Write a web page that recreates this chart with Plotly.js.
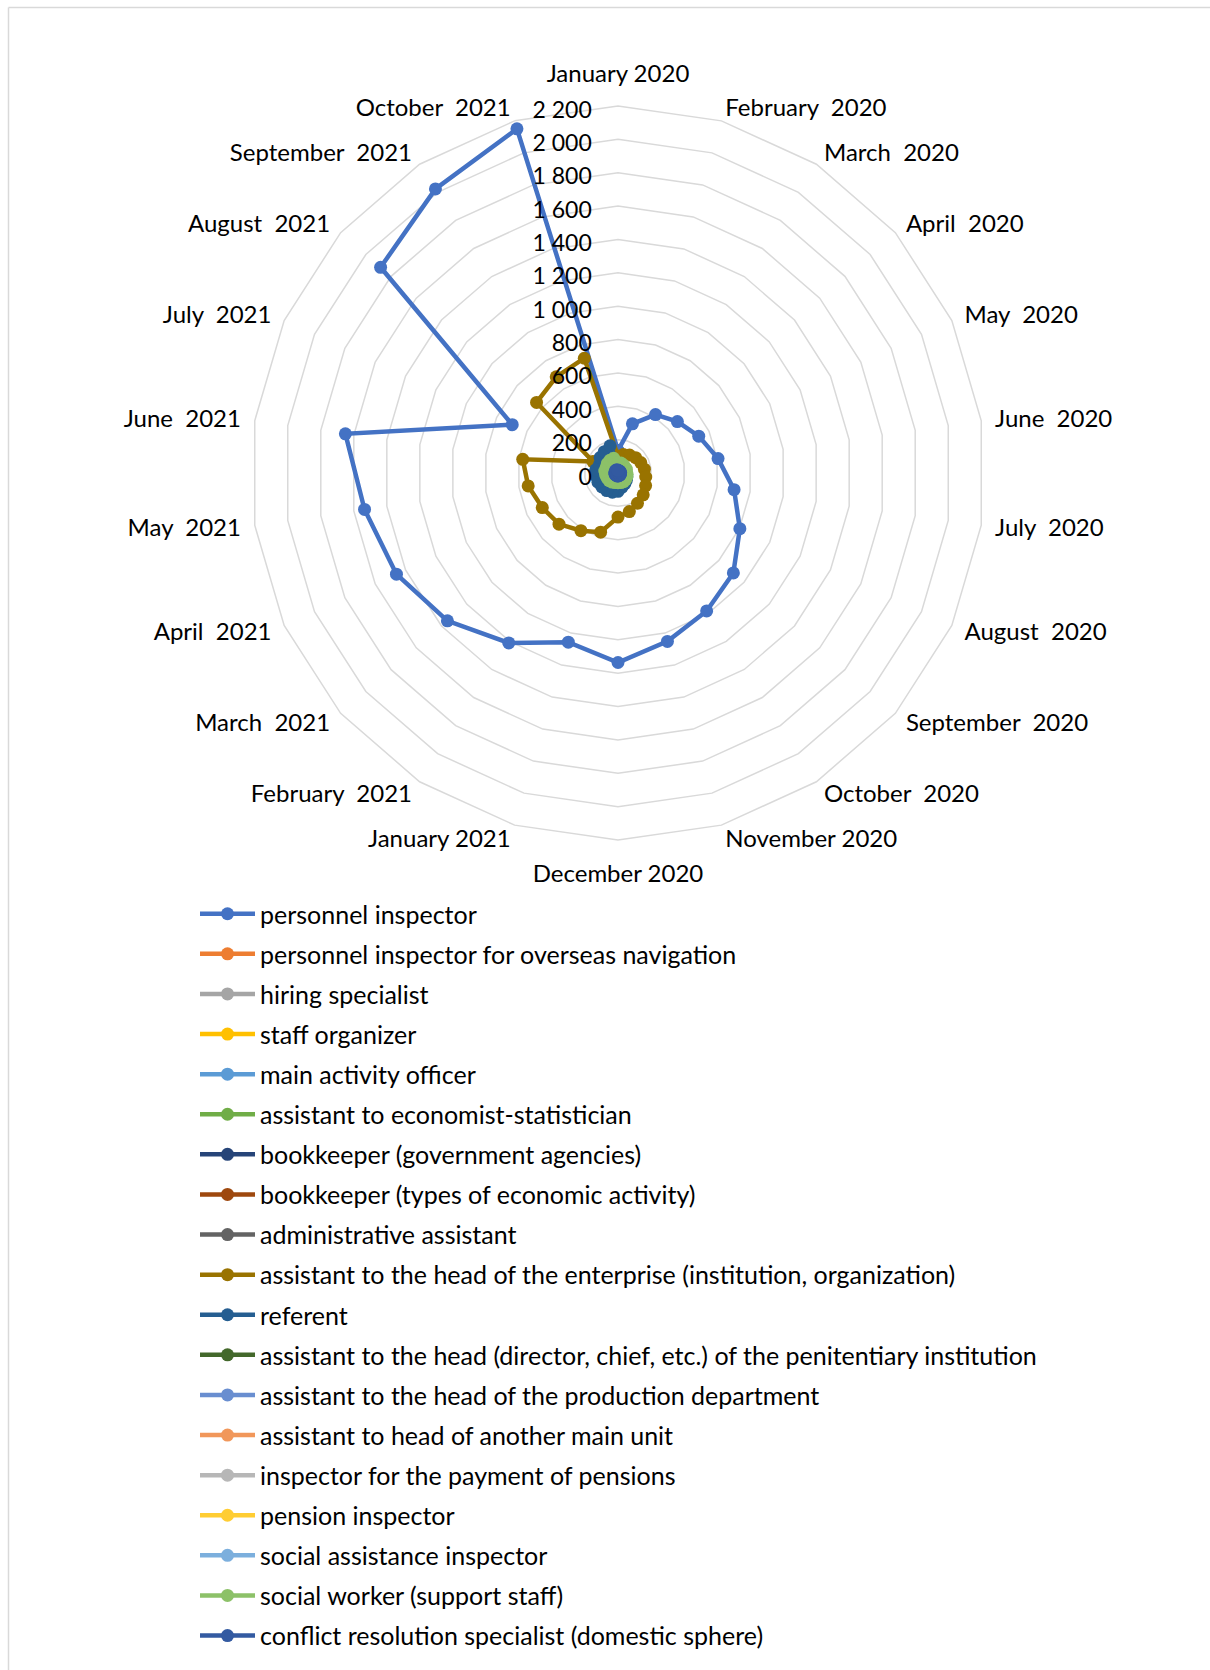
<!DOCTYPE html>
<html><head><meta charset="utf-8">
<script src="https://cdn.plot.ly/plotly-3.0.1.min.js"></script>
<style>html,body{margin:0;padding:0;background:#fff}#chart{width:1210px;height:1670px}</style>
</head><body><div id="chart"></div>
<script>
const months = ["January 2020","February\u00a0 2020","March\u00a0 2020","April\u00a0 2020","May\u00a0 2020","June\u00a0 2020","July\u00a0 2020","August\u00a0 2020","September\u00a0 2020","October\u00a0 2020","November 2020","December 2020","January 2021","February\u00a0 2021","March\u00a0 2021","April\u00a0 2021","May\u00a0 2021","June\u00a0 2021","July\u00a0 2021","August\u00a0 2021","September\u00a0 2021","October\u00a0 2021"];

const seriesNames = ["personnel inspector","personnel inspector for overseas navigation","hiring specialist","staff organizer","main activity officer","assistant to economist-statistician","bookkeeper (government agencies)","bookkeeper (types of economic activity)","administrative assistant","assistant to the head of the enterprise (institution, organization)","referent","assistant to the head (director, chief, etc.) of the penitentiary institution","assistant to the head of the production department","assistant to head of another main unit","inspector for the payment of pensions","pension inspector","social assistance inspector","social worker (support staff)","conflict resolution specialist (domestic sphere)"];

const seriesColors = ["#4472C4","#ED7D31","#A5A5A5","#FFC000","#5B9BD5","#70AD47","#264478","#9E480E","#636363","#997300","#255E91","#43682B","#698ED0","#F1975A","#B7B7B7","#FFCD33","#7CAFDD","#8CC168","#335AA1"];

const personnelInspector = [135,307,416,471,532,606,703,803,915,983,1052,1136,1057,1211,1353,1460,1535,1651,697,1883,2024,2150];
const personnelInspectorOverseas = [2,2,3,2,3,3,2,3,3,2,3,3,4,3,3,4,3,4,3,4,4,3];
const hiringSpecialist = [10,9,10,11,10,12,12,11,12,13,12,14,15,14,15,16,15,16,14,17,18,18];
const staffOrganizer = [4,4,5,5,4,5,6,5,6,6,5,6,7,6,7,7,7,8,6,8,8,9];
const mainActivityOfficer = [6,5,6,6,7,6,7,8,7,8,8,9,9,9,10,10,11,11,9,12,12,13];
const assistantEconomist = [3,3,3,4,3,4,4,3,4,4,4,5,5,4,5,5,5,6,5,6,6,6];
const bookkeeperGov = [20,18,19,20,21,22,21,23,24,25,24,26,28,27,29,30,31,32,28,33,34,35];
const bookkeeperEcon = [15,14,15,16,15,17,16,18,18,19,19,20,22,21,22,23,24,24,21,25,26,27];
const adminAssistant = [25,24,25,26,27,28,27,29,30,31,32,34,36,35,37,38,39,40,36,42,43,45];
const assistantHeadEnterprise = [100,115,128,140,150,160,168,182,200,216,241,264,370,411,468,499,544,577,165,646,685,717];
const referent = [60,55,50,45,45,48,52,58,66,76,88,110,120,125,128,132,132,135,122,142,152,170];
const assistantHeadPenitentiary = [5,5,6,6,5,6,7,6,7,7,7,8,8,8,9,9,9,10,8,10,11,11];
const assistantHeadProduction = [8,8,9,9,8,9,10,10,11,11,10,12,12,12,13,13,14,14,12,15,15,16];
const assistantHeadOtherUnit = [7,6,7,7,8,8,7,8,9,9,9,10,10,10,11,11,11,12,10,12,13,13];
const inspectorPensionPayment = [12,11,12,12,13,13,12,14,14,15,15,16,17,16,17,18,18,19,17,20,20,21];
const pensionInspector = [9,9,10,10,9,10,11,11,12,12,11,13,13,13,14,14,15,15,13,16,16,17];
const socialAssistanceInspector = [14,13,14,15,14,15,16,16,17,17,16,18,19,18,19,20,20,21,19,22,22,23];
const socialWorker = [60,62,58,55,55,52,55,58,60,62,60,58,60,65,70,72,75,80,78,85,90,92];
const conflictResolution = [15,14,15,14,15,16,15,16,17,16,17,18,18,17,18,19,18,19,18,20,20,21];

const seriesValues = [personnelInspector,personnelInspectorOverseas,hiringSpecialist,staffOrganizer,mainActivityOfficer,assistantEconomist,bookkeeperGov,bookkeeperEcon,adminAssistant,assistantHeadEnterprise,referent,assistantHeadPenitentiary,assistantHeadProduction,assistantHeadOtherUnit,inspectorPensionPayment,pensionInspector,socialAssistanceInspector,socialWorker,conflictResolution];

const FONT = "Lato, 'Open Sans', sans-serif";
const R_MAX = 2200;

const traces = seriesNames.map((name, i) => {
  const vals = seriesValues[i];
  return {
    type: 'scatterpolar',
    mode: 'lines+markers',
    name: name,
    legendgroup: 'g' + i,
    r: vals.concat([vals[0]]),
    theta: months.concat([months[0]]),
    line: {color: seriesColors[i], width: 4.5},
    marker: {color: seriesColors[i], size: 13},
    hoverinfo: 'name+r+theta'
  };
});

const W = 1210, H = 1670;
const cx = 618, cy = 473, R = 367;
const SIDE_GAP = 14, VERT_GAP = 21, LABEL_DY = 2.7;
const R2 = R + VERT_GAP;

// Category labels: drawn on an invisible companion polar subplot whose outer edge sits
// just outside the outer ring, anchored away from the centre (as Excel does).
const n = months.length;
const labelPositions = months.map((m, i) => {
  if (i === 0) return 'top center';
  if (2 * i === n) return 'bottom center';
  return (2 * i < n) ? 'middle right' : 'middle left';
});
const labelRadii = labelPositions.map(p => p.indexOf('center') >= 0 ? 1 : (R + SIDE_GAP) / R2);
traces.push({
  type: 'scatterpolar',
  subplot: 'polar2',
  mode: 'text',
  r: labelRadii,
  theta: months,
  text: months,
  textposition: labelPositions,
  textfont: {family: FONT, size: 24, color: '#000000'},
  cliponaxis: false,
  showlegend: false,
  hoverinfo: 'skip'
});

const hiddenAxis = {visible: false, showgrid: false, showline: false, showticklabels: false, ticks: ''};
const cy2 = cy + LABEL_DY;

const layout = {
  width: W, height: H,
  margin: {l: 0, r: 0, t: 0, b: 0},
  paper_bgcolor: '#ffffff',
  separators: '. ',
  font: {family: FONT, size: 24, color: '#000000'},
  showlegend: true,
  legend: {
    x: 195 / W, xanchor: 'left',
    y: 1 - 891 / H, yanchor: 'top',
    traceorder: 'grouped',
    tracegroupgap: 4.6,
    itemwidth: 55,
    font: {family: FONT, size: 25, color: '#000000'},
    bgcolor: 'rgba(0,0,0,0)'
  },
  polar: {
    domain: {x: [(cx - R) / W, (cx + R) / W], y: [1 - (cy + R) / H, 1 - (cy - R) / H]},
    bgcolor: '#ffffff',
    gridshape: 'linear',
    angularaxis: {
      type: 'category',
      categoryarray: months,
      direction: 'clockwise',
      rotation: 90,
      showgrid: false,
      showline: true,
      linecolor: '#d9d9d9',
      linewidth: 1.5,
      ticks: '',
      showticklabels: false
    },
    radialaxis: {
      range: [0, R_MAX],
      tick0: 0,
      dtick: 200,
      tickformat: ',d',
      angle: 90,
      side: 'counterclockwise',
      showline: false,
      gridcolor: '#d9d9d9',
      gridwidth: 1.5,
      ticks: 'outside',
      ticklen: 5,
      tickcolor: 'rgba(0,0,0,0)',
      tickfont: {family: FONT, size: 23, color: '#000000'},
      layer: 'above traces'
    }
  },
  polar2: {
    domain: {x: [(cx - R2) / W, (cx + R2) / W], y: [1 - (cy2 + R2) / H, 1 - (cy2 - R2) / H]},
    bgcolor: 'rgba(0,0,0,0)',
    angularaxis: Object.assign({type: 'category', categoryarray: months, direction: 'clockwise', rotation: 90}, hiddenAxis),
    radialaxis: Object.assign({range: [0, 1.0001]}, hiddenAxis)
  },
  shapes: [
    {type: 'line', xref: 'paper', yref: 'paper', x0: 8.5 / W, x1: 1.01, y0: 1 - 7.5 / H, y1: 1 - 7.5 / H, line: {color: '#d9d9d9', width: 1.5}},
    {type: 'line', xref: 'paper', yref: 'paper', x0: 8.5 / W, x1: 8.5 / W, y0: -0.01, y1: 1 - 7.5 / H, line: {color: '#d9d9d9', width: 1.5}}
  ]
};

Plotly.newPlot('chart', traces, layout, {displayModeBar: false, staticPlot: true});
</script>
</body></html>
